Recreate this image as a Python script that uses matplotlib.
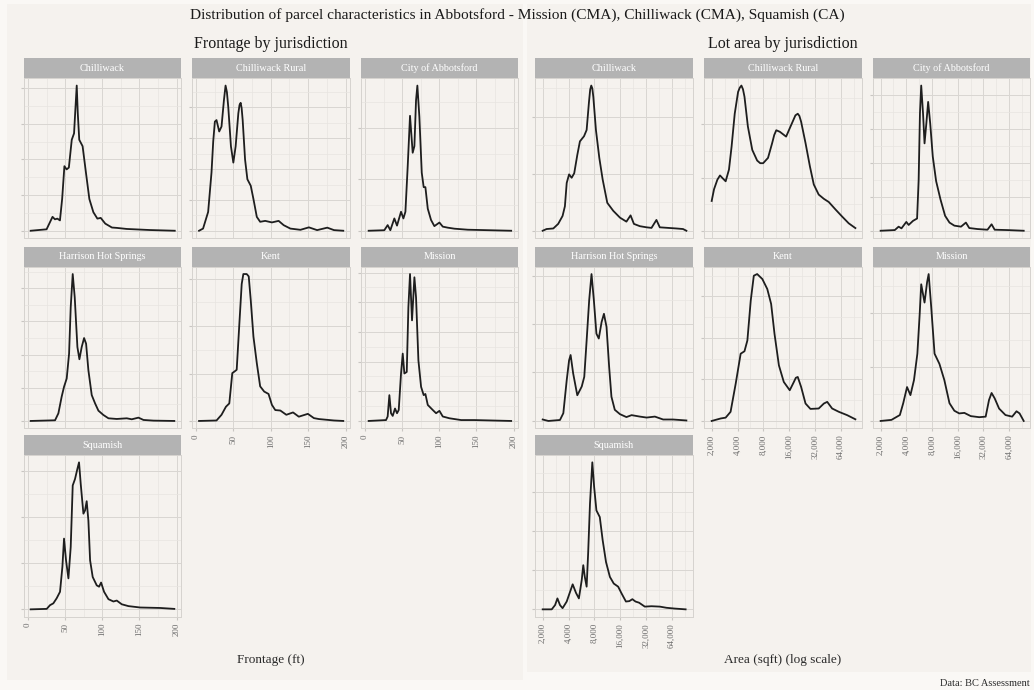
import numpy as np
import matplotlib
matplotlib.use('Agg')
import matplotlib.pyplot as plt
from matplotlib.ticker import FixedLocator, MultipleLocator, FuncFormatter, NullFormatter
from matplotlib.patches import Rectangle

plt.rcParams['font.family'] = ['Liberation Serif', 'DejaVu Serif']

# panel order in both facet grids
jurisdictions = ['Chilliwack', 'Chilliwack Rural', 'City of Abbotsford',
                 'Harrison Hot Springs', 'Kent', 'Mission', 'Squamish']

front_ticks = [0, 50, 100, 150, 200]
area_ticks = [2000, 4000, 8000, 16000, 32000, 64000]

# frontage densities (ft, density in gridline units)
chilliwack_front_x = [3.6, 25, 33, 36.3, 39.5, 43, 46, 49, 52, 55, 58.9, 62, 63.5, 65.6, 67, 69, 73.5, 78, 82.6, 88, 93.4, 97.9, 104, 113, 119.5, 133, 164, 197.6]
chilliwack_front_y = [0, 0.04, 0.39, 0.32, 0.34, 0.29, 0.9, 1.81, 1.72, 1.77, 2.55, 2.73, 3.3, 4.07, 3.3, 2.55, 2.37, 1.63, 0.89, 0.52, 0.34, 0.36, 0.2, 0.09, 0.08, 0.05, 0.02, 0]

chilliwack_rural_front_x = [4, 9.4, 16.2, 20.7, 23, 25.2, 27.4, 31, 34.1, 37.3, 39.5, 41.3, 43.1, 46.7, 49.9, 53, 56.6, 58.2, 59.7, 61, 62.4, 65.6, 68.7, 73.2, 76.8, 81.3, 85.8, 92.5, 101.5, 110.5, 117.3, 126.2, 139.7, 151, 162, 175.6, 184.6, 197]
chilliwack_rural_front_y = [0, 0.07, 0.61, 1.89, 2.9, 3.54, 3.59, 3.22, 3.38, 4.23, 4.71, 4.5, 4.02, 2.74, 2.21, 2.74, 3.81, 4.08, 4.15, 3.98, 3.59, 2.31, 1.67, 1.46, 1.03, 0.45, 0.29, 0.32, 0.27, 0.32, 0.18, 0.07, 0.03, 0.11, 0.02, 0.1, 0.02, 0]

abbotsford_front_x = [4.9, 26, 30.5, 34.1, 39.5, 43.1, 48.5, 51.7, 54.4, 57.5, 60.6, 64.2, 66.5, 68.7, 70.5, 73.2, 76.4, 79, 81.3, 84.5, 88.9, 93.4, 100.2, 104.7, 111.4, 120.4, 138.4, 196.8]
abbotsford_front_y = [0, 0.01, 0.11, 0.01, 0.24, 0.10, 0.37, 0.24, 0.37, 1.26, 2.24, 1.52, 1.65, 2.54, 2.83, 2.22, 1.13, 0.85, 0.85, 0.43, 0.21, 0.09, 0.16, 0.08, 0.06, 0.04, 0.02, 0]

harrison_front_x = [3.6, 36.4, 40.9, 45.3, 48.5, 52.1, 55.3, 57.5, 60.2, 62.9, 66.5, 69.2, 72.3, 75.5, 78.2, 81.3, 85.8, 90.3, 94.8, 101.5, 108.3, 119.5, 133, 139.7, 148.7, 155.5, 169, 197]
harrison_front_y = [0, 0.02, 0.23, 0.73, 1.03, 1.28, 2.03, 3.43, 4.43, 3.73, 2.23, 1.86, 2.23, 2.5, 2.33, 1.53, 0.78, 0.53, 0.31, 0.18, 0.08, 0.06, 0.08, 0.05, 0.1, 0.03, 0.01, 0]

kent_front_x = [4, 27.4, 34.1, 40, 44.5, 48.5, 51.2, 54.4, 58, 61.1, 63.3, 67.8, 70.5, 73.2, 76.8, 81.3, 85.8, 91.2, 97, 101.5, 106, 112.8, 120.8, 129.8, 137.5, 149.6, 157.7, 164.4, 184.6, 197]
kent_front_y = [0, 0.01, 0.13, 0.3, 0.37, 1.01, 1.04, 1.08, 2.06, 2.89, 3.1, 3.1, 3.05, 2.55, 1.78, 1.22, 0.73, 0.62, 0.57, 0.34, 0.23, 0.22, 0.13, 0.18, 0.09, 0.15, 0.06, 0.04, 0.01, 0]

mission_front_x = [4.9, 28.3, 30.5, 32.8, 35, 37.3, 40.4, 43.1, 45.4, 48.5, 50.8, 53, 56.2, 58.4, 60.6, 63.3, 66.5, 68.7, 71.9, 75.5, 79, 81.3, 84.5, 91.2, 95.7, 100.2, 104.7, 113.7, 129.4, 147.3, 196.8]
mission_front_y = [0, 0.03, 0.15, 0.87, 0.26, 0.17, 0.42, 0.26, 0.37, 1.6, 2.27, 1.6, 1.65, 3.83, 4.95, 3.39, 4.84, 4.17, 2.04, 1.15, 0.87, 0.91, 0.54, 0.37, 0.26, 0.34, 0.15, 0.09, 0.03, 0.03, 0]

squamish_front_x = [3.6, 25.2, 29.6, 34.1, 38.6, 43.1, 46.3, 48.5, 51.2, 54.4, 57.5, 60.2, 63.3, 66.5, 68.7, 71, 74.6, 76.8, 79, 81.3, 83.6, 87.1, 92.5, 95.7, 98.4, 102.4, 108.3, 115, 119.5, 126.2, 135.2, 151, 177.9, 197]
squamish_front_y = [0, 0.01, 0.09, 0.13, 0.24, 0.38, 0.92, 1.53, 1.06, 0.67, 1.35, 2.68, 2.82, 3.04, 3.18, 2.71, 2.07, 2.14, 2.34, 1.92, 1.06, 0.7, 0.52, 0.49, 0.58, 0.38, 0.22, 0.17, 0.19, 0.11, 0.07, 0.04, 0.03, 0.01]

# lot area densities (sqft, density in gridline units)
chilliwack_area_x = [2000, 2220, 2660, 3030, 3410, 3630, 3810, 4060, 4350, 4660, 5060, 5430, 6060, 6500, 6920, 7150, 7360, 7570, 7780, 8340, 9130, 9990, 11310, 13270, 15890, 18890, 21110, 23100, 27090, 32450, 37000, 42240, 46210, 57700, 72000, 86200, 94300]
chilliwack_area_y = [0, 0.03, 0.04, 0.12, 0.26, 0.43, 0.84, 0.99, 0.93, 1.01, 1.33, 1.57, 1.66, 1.77, 2.26, 2.48, 2.55, 2.5, 2.35, 1.77, 1.28, 0.9, 0.49, 0.35, 0.23, 0.16, 0.27, 0.12, 0.08, 0.06, 0.05, 0.19, 0.06, 0.05, 0.04, 0.03, 0]

chilliwack_rural_area_x = [2000, 2130, 2330, 2500, 2710, 2910, 3180, 3410, 3710, 4060, 4250, 4440, 4630, 4820, 5280, 5940, 6770, 7350, 7950, 9060, 10130, 10700, 11310, 12460, 14720, 16560, 18890, 20110, 21000, 22010, 24760, 27860, 30910, 35260, 40500, 46210, 55320, 65800, 78800, 94300]
chilliwack_rural_area_y = [0.56, 0.78, 0.96, 1.04, 0.98, 0.93, 1.15, 1.58, 2.2, 2.61, 2.69, 2.73, 2.66, 2.52, 1.96, 1.52, 1.32, 1.27, 1.27, 1.37, 1.65, 1.8, 1.89, 1.86, 1.77, 1.96, 2.17, 2.2, 2.16, 2.05, 1.65, 1.21, 0.87, 0.68, 0.6, 0.54, 0.4, 0.27, 0.14, 0.05]

abbotsford_area_x = [2000, 2930, 3250, 3510, 4000, 4260, 4790, 5350, 5580, 5780, 5980, 6280, 6540, 6870, 7210, 7620, 8170, 8940, 10060, 11390, 12820, 14620, 17500, 19970, 21850, 27270, 35750, 39940, 43400, 60970, 95000]
abbotsford_area_y = [0, 0.02, 0.12, 0.07, 0.26, 0.17, 0.29, 0.36, 1.5, 3.45, 4.27, 3.45, 2.57, 3.16, 3.79, 3.16, 2.18, 1.46, 0.92, 0.44, 0.24, 0.15, 0.12, 0.24, 0.08, 0.05, 0.03, 0.19, 0.03, 0.02, 0]

harrison_area_x = [2000, 2330, 3180, 3480, 3810, 4060, 4230, 4530, 5060, 5700, 6100, 6500, 6960, 7410, 7890, 8450, 9000, 9710, 10340, 11080, 11880, 12640, 13830, 15890, 18890, 21700, 27090, 32450, 40510, 50550, 65800, 94300]
harrison_area_y = [0.03, 0, 0.02, 0.16, 0.84, 1.25, 1.36, 0.98, 0.53, 0.71, 0.91, 1.66, 2.49, 3.03, 2.49, 1.8, 1.7, 2.04, 2.21, 1.94, 1.12, 0.5, 0.23, 0.14, 0.08, 0.12, 0.09, 0.07, 0.09, 0.03, 0.03, 0.01]

kent_area_x = [2000, 2550, 2910, 3320, 3810, 4350, 4820, 5210, 5700, 6190, 6770, 7780, 8880, 9850, 10780, 12130, 13830, 16220, 18120, 19100, 20110, 22010, 24770, 28240, 35260, 40510, 44310, 50560, 60550, 75600, 94300]
kent_area_y = [0, 0.06, 0.08, 0.22, 0.9, 1.62, 1.68, 1.94, 2.9, 3.5, 3.54, 3.42, 3.18, 2.82, 2.1, 1.34, 0.94, 0.74, 0.94, 1.04, 1.06, 0.82, 0.42, 0.29, 0.3, 0.42, 0.46, 0.3, 0.22, 0.14, 0.04]

mission_area_x = [2000, 2680, 3360, 3680, 4080, 4470, 4920, 5390, 5740, 5980, 6540, 7010, 7310, 7830, 8570, 9780, 11160, 12820, 14620, 16680, 19160, 22780, 28630, 34040, 37270, 39940, 43420, 48900, 58080, 69550, 78240, 85000, 95000]
mission_area_y = [0, 0.02, 0.11, 0.33, 0.63, 0.48, 0.76, 1.25, 1.99, 2.54, 2.2, 2.58, 2.73, 2.12, 1.25, 1.06, 0.76, 0.33, 0.19, 0.14, 0.15, 0.09, 0.07, 0.08, 0.39, 0.52, 0.42, 0.23, 0.11, 0.08, 0.18, 0.14, 0]

squamish_area_x = [2000, 2550, 2790, 2970, 3180, 3410, 3810, 4170, 4470, 4890, 5280, 5700, 5940, 6190, 6500, 6770, 7110, 7570, 7950, 8450, 9250, 9990, 10930, 12130, 13450, 15140, 16560, 18640, 20390, 22160, 24080, 26530, 30910, 37010, 46210, 55320, 69070, 92400]
squamish_area_y = [0, 0, 0.11, 0.28, 0.11, 0.03, 0.2, 0.45, 0.64, 0.42, 0.28, 0.75, 1.13, 0.83, 0.58, 1.44, 2.7, 3.76, 3.13, 2.53, 2.36, 1.77, 1.21, 0.83, 0.66, 0.58, 0.41, 0.2, 0.21, 0.26, 0.2, 0.17, 0.07, 0.08, 0.07, 0.04, 0.02, 0]

front_series = [(chilliwack_front_x, chilliwack_front_y), (chilliwack_rural_front_x, chilliwack_rural_front_y),
                (abbotsford_front_x, abbotsford_front_y), (harrison_front_x, harrison_front_y),
                (kent_front_x, kent_front_y), (mission_front_x, mission_front_y),
                (squamish_front_x, squamish_front_y)]
area_series = [(chilliwack_area_x, chilliwack_area_y), (chilliwack_rural_area_x, chilliwack_rural_area_y),
               (abbotsford_area_x, abbotsford_area_y), (harrison_area_x, harrison_area_y),
               (kent_area_x, kent_area_y), (mission_area_x, mission_area_y),
               (squamish_area_x, squamish_area_y)]

W, H = 1034, 690
OUTER = '#faf8f5'
INNER = '#f5f2ee'
GRID_MAJ = '#d9d6d2'
GRID_MIN = '#e8e5e1'
STRIP = '#b3b3b3'
TICKCOL = '#6e6e6e'

fig = plt.figure(figsize=(W / 100, H / 100), dpi=100)
fig.patch.set_facecolor(OUTER)

# the two plot backgrounds (left / right halves), kept behind the axes
for x0, x1, y1 in [(7, 523, 680), (527, 1031, 672)]:
    fig.patches.append(Rectangle((x0 / W, 1 - y1 / H), (x1 - x0) / W, (y1 - 4) / H,
                                 transform=fig.transFigure, facecolor=INNER, edgecolor='none', zorder=-5))


def px_axes(x0, y0, x1, y1):
    return fig.add_axes([x0 / W, 1 - y1 / H, (x1 - x0) / W, (y1 - y0) / H])


col_left = [(24, 181), (192, 350), (361, 518)]
col_right = [(535, 693), (704, 862), (873, 1030)]
rows = [(58, 78.3, 238), (246.7, 266.7, 428.3), (435, 455, 616.7)]


def draw_panel(cols, idx, x, y, name, log, show_x):
    r, c = divmod(idx, 3)
    x0, x1 = cols[c]
    s0, p0, p1 = rows[r]

    # strip
    sax = px_axes(x0, s0, x1, p0)
    sax.set_facecolor(STRIP)
    sax.set_xticks([])
    sax.set_yticks([])
    for sp in sax.spines.values():
        sp.set_visible(False)
    sax.text(0.5, 0.5, name, ha='center', va='center', color='white', fontsize=7.3,
             transform=sax.transAxes)

    ax = px_axes(x0, p0, x1, p1)
    ax.set_facecolor(INNER)
    ax.plot(x, y, color='#1e1e1e', lw=1.3, solid_joinstyle='round', zorder=3)
    ymax = max(y)
    ax.set_ylim(-0.05 * ymax, 1.05 * ymax)
    ax.yaxis.set_major_locator(MultipleLocator(1))
    ax.yaxis.set_minor_locator(MultipleLocator(0.5))

    if log:
        ax.set_xscale('log')
        ax.set_xlim(1628, 112600)
        ax.xaxis.set_major_locator(FixedLocator(area_ticks))
        mids = [np.sqrt(a * b) for a, b in zip(area_ticks[:-1], area_ticks[1:])]
        ax.xaxis.set_minor_locator(FixedLocator(mids + [area_ticks[-1] * np.sqrt(2)]))
        ax.xaxis.set_major_formatter(FuncFormatter(lambda v, p: f'{int(round(v)):,}'))
        ax.xaxis.set_minor_formatter(NullFormatter())
    else:
        ax.set_xlim(-5.4, 206)
        ax.xaxis.set_major_locator(FixedLocator(front_ticks))
        ax.xaxis.set_minor_locator(MultipleLocator(25))

    ax.grid(True, which='major', color=GRID_MAJ, lw=0.7, zorder=0)
    ax.grid(True, which='minor', color=GRID_MIN, lw=0.5, zorder=0)
    ax.set_axisbelow(True)
    for sp in ax.spines.values():
        sp.set_color('#d6d3cf')
        sp.set_linewidth(0.7)

    ax.tick_params(axis='y', which='major', length=2.5, color='#c9c6c2', labelleft=False)
    ax.tick_params(axis='y', which='minor', length=0)
    ax.tick_params(axis='x', which='minor', length=0)
    if show_x:
        ax.tick_params(axis='x', which='major', length=2.5, color='#c9c6c2',
                       labelsize=6.5, labelcolor=TICKCOL, labelrotation=90, pad=2)
    else:
        ax.tick_params(axis='x', which='major', length=0, labelbottom=False)


bottom_idx = {6, 4, 5}
for i, name in enumerate(jurisdictions):
    fx, fy = front_series[i]
    draw_panel(col_left, i, fx, fy, name, False, i in bottom_idx)
    ax_, ay_ = area_series[i]
    draw_panel(col_right, i, ax_, ay_, name, True, i in bottom_idx)

fig.text(517 / W, 1 - 15 / H,
         'Distribution of parcel characteristics in Abbotsford - Mission (CMA), Chilliwack (CMA), Squamish (CA)',
         ha='center', va='center', fontsize=11.1, color='#1a1a1a')
fig.text(271 / W, 1 - 44 / H, 'Frontage by jurisdiction', ha='center', va='center',
         fontsize=11.5, color='#1a1a1a')
fig.text(783 / W, 1 - 44 / H, 'Lot area by jurisdiction', ha='center', va='center',
         fontsize=11.5, color='#1a1a1a')
fig.text(271 / W, 1 - 660 / H, 'Frontage (ft)', ha='center', va='center', fontsize=9.5, color='#2a2a2a')
fig.text(783 / W, 1 - 660 / H, 'Area (sqft) (log scale)', ha='center', va='center', fontsize=9.5,
         color='#2a2a2a')
fig.text(1030 / W, 1 - 683 / H, 'Data: BC Assessment', ha='right', va='center', fontsize=7.5,
         color='#2a2a2a')

fig.savefig('out.png', dpi=100, facecolor=fig.get_facecolor())
